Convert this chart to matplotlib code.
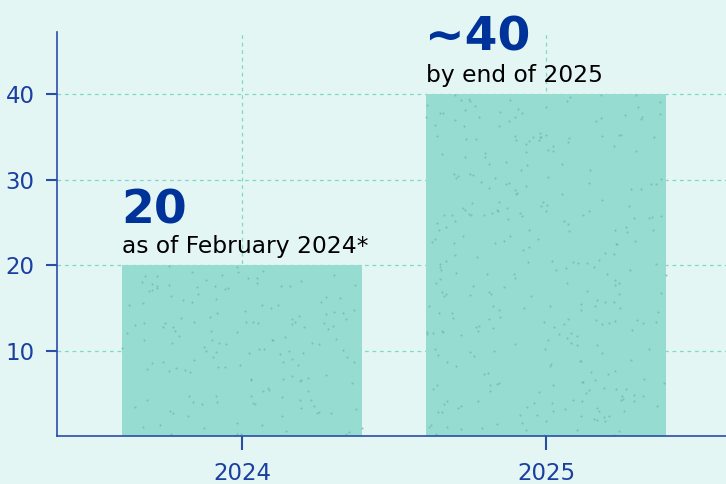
import matplotlib.pyplot as plt
import numpy as np

years = ["2024", "2025"]
values = [20, 40]
big_labels = ["20", "~40"]
sub_labels = ["as of February 2024*", "by end of 2025"]
yticks = [10, 20, 30, 40]

bg = "#e4f6f4"
bar_col = "#96dcd0"
dark = "#2a4ea6"
blue = "#003399"

fig = plt.figure(figsize=(7.26, 4.84), dpi=100, facecolor=bg)
ax = fig.add_axes([57 / 726, 48 / 484, 1 - 57 / 726, 404 / 484])
ax.set_facecolor(bg)

x = np.arange(len(years))
bars = ax.bar(x, values, width=0.79, color=bar_col, zorder=5)

# speckle texture on the bars
rng = np.random.default_rng(3)
for b in bars:
    n = int(b.get_height() * 8)
    px = rng.uniform(b.get_x(), b.get_x() + b.get_width(), n)
    py = rng.uniform(0, b.get_height(), n)
    ax.scatter(px, py, s=2.2, color="#72b5ab", alpha=0.75, lw=0, zorder=6)

ax.set_xlim(-0.609, 1.592)
ax.set_ylim(0, 47.3)
ax.set_xticks(x)
ax.set_xticklabels(years)
ax.set_yticks(yticks)

ax.set_axisbelow(True)
ax.grid(True, color="#7dd9c8", linestyle=(0, (3, 3)), linewidth=0.9)

for s in ["top", "right"]:
    ax.spines[s].set_visible(False)
for s in ["left", "bottom"]:
    ax.spines[s].set_color(dark)
    ax.spines[s].set_linewidth(1.2)
    ax.spines[s].set_zorder(7)

ax.tick_params(axis="y", colors=dark, labelcolor="#1a3fa0", labelsize=16.5,
               length=8, width=1.5, pad=8)
ax.tick_params(axis="x", colors=dark, labelcolor="#1a3fa0", labelsize=16.5,
               length=10, width=1.5, pad=9)

for b, big, sub, off in zip(bars, big_labels, sub_labels, [42, 44]):
    x0 = b.get_x()
    top = b.get_height()
    ax.annotate(sub, (x0, top), xytext=(0, 12), textcoords="offset pixels",
                fontsize=16.8, color="black", ha="left", va="baseline")
    ax.annotate(big, (x0, top), xytext=(-1, off), textcoords="offset pixels",
                fontsize=34, fontweight="bold", color=blue, ha="left",
                va="baseline")

fig.savefig("out.png", dpi=100, facecolor=bg)
